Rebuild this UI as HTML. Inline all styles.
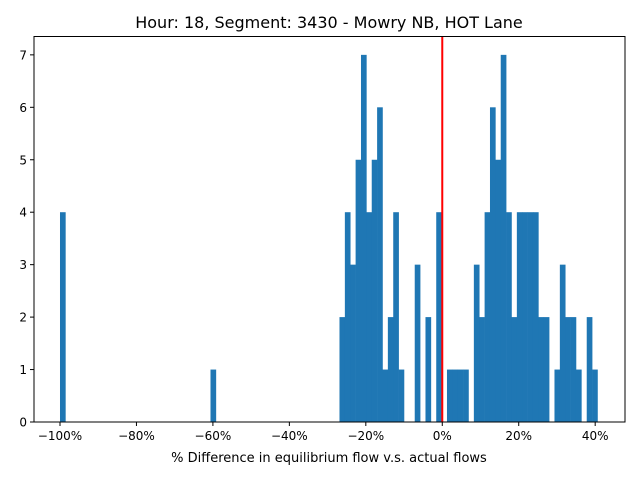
<!DOCTYPE html>
<html><head><meta charset="utf-8"><style>
html,body{margin:0;padding:0;background:#fff;}
svg text{font-family:"DejaVu Sans","Liberation Sans",sans-serif;}
</style></head><body>
<svg id="chart" width="640" height="480" xmlns="http://www.w3.org/2000/svg">
<rect width="640" height="480" fill="#fff"/>
<text x="329" y="28" font-size="16" text-anchor="middle" fill="#000">Hour: 18, Segment: 3430 - Mowry NB, HOT Lane</text>
<g id="bars"></g>
<g id="axes"></g>
<text x="329" y="462" font-size="13" text-anchor="middle" fill="#000">% Difference in equilibrium flow v.s. actual flows</text>
</svg>
<script>
const binStart = -100;
const binWidth = 1.406;
const counts = [4,0,0,0,0,0,0,0,0,0, 0,0,0,0,0,0,0,0,0,0, 0,0,0,0,0,0,0,0,1,0,
 0,0,0,0,0,0,0,0,0,0, 0,0,0,0,0,0,0,0,0,0, 0,0,2,4,3,5,7,4,5,6,
 1,2,4,1,0,0,3,0,2,0, 4,0,1,1,1,1,0,3,2,4, 6,5,7,4,2,4,4,4,4,2,
 2,0,1,3,2,2,1,0,2,1];
const xTicks = [-100,-80,-60,-40,-20,0,20,40];
const xTickLabels = ["−100%","−80%","−60%","−40%","−20%","0%","20%","40%"];
const yTicks = [0,1,2,3,4,5,6,7];
const refLine = 0;

const X0=34, X1=625, Y0=422, Y1=36.5;
const xMin=-106.8, xMax=47.8, yMax=7.35;
const sx = v => X0 + (v - xMin) / (xMax - xMin) * (X1 - X0);
const sy = v => Y0 - v / yMax * (Y0 - Y1);
const NS="http://www.w3.org/2000/svg";
const bars=document.getElementById('bars'), axes=document.getElementById('axes');
function mk(tag, attrs, parent){const e=document.createElementNS(NS,tag);for(const k in attrs)e.setAttribute(k,attrs[k]);parent.appendChild(e);return e;}
counts.forEach((c,i)=>{
  if(!c) return;
  const l=sx(binStart+i*binWidth), r=sx(binStart+(i+1)*binWidth);
  const b=mk('rect',{x:l,y:sy(c),width:r-l+0.3,height:Y0-sy(c),fill:'#1f77b4'},bars);
  
  
});
const rl=mk('line',{x1:sx(refLine),x2:sx(refLine),y1:Y1,y2:Y0,stroke:'#ff0000','stroke-width':2},bars);


const fr=mk('rect',{x:X0,y:Y1,width:X1-X0,height:Y0-Y1,fill:'none',stroke:'#000','stroke-width':1},axes);


xTicks.forEach((t,i)=>{
  const x=sx(t);
  mk('line',{x1:x,x2:x,y1:Y0,y2:Y0+4,stroke:'#000'},axes);
  const tx=mk('text',{x:x,y:Y0+18,'font-size':12,'text-anchor':'middle'},axes);
  tx.textContent=xTickLabels[i];
  
  
});
yTicks.forEach(t=>{
  const y=sy(t);
  mk('line',{x1:X0-4,x2:X0,y1:y,y2:y,stroke:'#000'},axes);
  const tx=mk('text',{x:X0-7,y:y+4.5,'font-size':12,'text-anchor':'end'},axes);
  tx.textContent=t;
  
  
});
</script>
</body></html>
